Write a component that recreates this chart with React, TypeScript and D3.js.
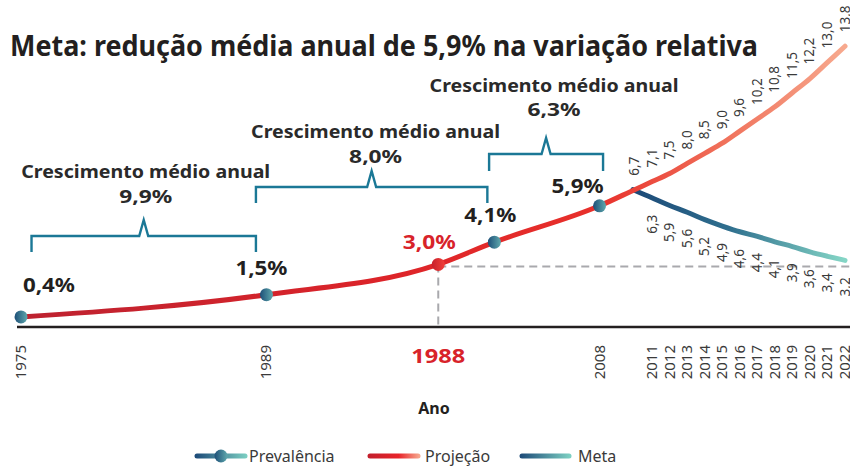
import React from "react";
import * as d3 from "d3";

const W = 850;
const H = 466;

const TITLE = "Meta: redução média anual de 5,9% na variação relativa";

// Prevalence (observed) points
const prevYears = [1975, 1989, 2002, 2008];
const prevValues = [0.4, 1.5, 4.1, 5.9];
const prevLabels = ["0,4%", "1,5%", "4,1%", "5,9%"];

// Projection marker (red point) – labelled "1988" in the source
const projMarkYear = 1998.8;
const projMarkValue = 3.0;
const projMarkLabel = "3,0%";
const projMarkTick = "1988";

// Projection curve (whole red line)
const projCurveYears = [1975, 1989, 1998.8, 2002, 2008, 2010, 2011, 2012, 2013, 2014, 2015, 2016, 2017, 2018, 2019, 2020, 2021, 2022];
const projCurveValues = [0.4, 1.5, 3.0, 4.1, 5.9, 6.7, 7.1, 7.5, 8.0, 8.5, 9.0, 9.6, 10.2, 10.8, 11.5, 12.2, 13.0, 13.8];

// Projection labels
const projYears = [2010, 2011, 2012, 2013, 2014, 2015, 2016, 2017, 2018, 2019, 2020, 2021, 2022];
const projValues = [6.7, 7.1, 7.5, 8.0, 8.5, 9.0, 9.6, 10.2, 10.8, 11.5, 12.2, 13.0, 13.8];
const projLabels = ["6,7", "7,1", "7,5", "8,0", "8,5", "9,0", "9,6", "10,2", "10,8", "11,5", "12,2", "13,0", "13,8"];

// Meta (target)
const metaYears = [2011, 2012, 2013, 2014, 2015, 2016, 2017, 2018, 2019, 2020, 2021, 2022];
const metaValues = [6.3, 5.9, 5.6, 5.2, 4.9, 4.6, 4.4, 4.1, 3.9, 3.6, 3.4, 3.2];
const metaLabels = ["6,3", "5,9", "5,6", "5,2", "4,9", "4,6", "4,4", "4,1", "3,9", "3,6", "3,4", "3,2"];
const metaStartYear = 2009.9;
const metaStartValue = 6.7;

// x tick labels
const tickYears = [1975, 1989, 2008, 2011, 2012, 2013, 2014, 2015, 2016, 2017, 2018, 2019, 2020, 2021, 2022];

// Growth brackets
const bracketFrom = [1975.6, 1988.4, 2001.7];
const bracketTo = [1988.4, 2001.6, 2008.2];
const bracketRates = ["9,9%", "8,0%", "6,3%"];
const bracketText = "Crescimento médio anual";

// Legend
const legendNames = ["Prevalência", "Projeção", "Meta"];

const FONT = "'Noto Sans', 'Open Sans', sans-serif";

export default function App() {
  const x = d3.scaleLinear().domain([1975, 2022]).range([21, 845]);
  const y = d3.scaleLinear().domain([0, 14]).range([325, 42.2]);

  const redLine = d3
    .line<number>()
    .x((_, i) => x(projCurveYears[i]))
    .y((d) => y(d))
    .curve(d3.curveMonotoneX)(projCurveValues) as string;

  const metaAllYears = [metaStartYear, ...metaYears];
  const metaAllValues = [metaStartValue, ...metaValues];
  const metaLine = d3
    .line<number>()
    .x((_, i) => x(metaAllYears[i]))
    .y((d) => y(d))
    .curve(d3.curveBasis)(metaAllValues) as string;

  const bracketLevels = [236, 187, 154];
  const bracketDrop = [16, 16, 17];
  const labelPos = [
    { dx: 2, t1: 178, t2: 203 },
    { dx: 4, t1: 138, t2: 163 },
    { dx: 8, t1: 92, t2: 116 },
  ];

  const bracketPath = (x0: number, x1: number, yb: number, drop: number) => {
    const cx = (x0 + x1) / 2;
    return `M${x0},${yb + drop}V${yb}H${cx - 4.5}L${cx},${yb - 16}L${cx + 4.5},${yb}H${x1}V${yb + drop}`;
  };

  const prevLabelPos = [
    { dx: 28, dy: -25 },
    { dx: -5, dy: -20 },
    { dx: -4, dy: -20 },
    { dx: -22, dy: -13 },
  ];

  const teal = "#1b7896";
  const xMark = x(projMarkYear);
  const yMark = y(projMarkValue);
  const legY = 456;

  return (
    <svg width={W} height={H} style={{ position: "absolute", left: 0, top: 0 }} fontFamily={FONT}>
      <defs>
        <linearGradient id="redGrad" gradientUnits="userSpaceOnUse" x1={x(1975)} y1="0" x2={x(2022)} y2="0">
          <stop offset="0%" stopColor="#bd2230" />
          <stop offset="45%" stopColor="#dd2429" />
          <stop offset="70%" stopColor="#e8302b" />
          <stop offset="85%" stopColor="#f0705a" />
          <stop offset="100%" stopColor="#f7a98e" />
        </linearGradient>
        <linearGradient id="metaGrad" gradientUnits="userSpaceOnUse" x1={x(2010)} y1="0" x2={x(2022)} y2="0">
          <stop offset="0%" stopColor="#1c4a78" />
          <stop offset="45%" stopColor="#2f6f8e" />
          <stop offset="100%" stopColor="#85d6c6" />
        </linearGradient>
        <linearGradient id="dotGrad" x1="0" y1="0" x2="1" y2="0">
          <stop offset="0%" stopColor="#1d4f78" />
          <stop offset="100%" stopColor="#5fa9ad" />
        </linearGradient>
        <linearGradient id="redDot" x1="0" y1="0" x2="1" y2="0">
          <stop offset="0%" stopColor="#c81f2b" />
          <stop offset="100%" stopColor="#f0403a" />
        </linearGradient>
        <linearGradient id="legPrev" gradientUnits="userSpaceOnUse" x1={195} y1="0" x2={247} y2="0">
          <stop offset="0%" stopColor="#1c4a78" />
          <stop offset="100%" stopColor="#7ccfc2" />
        </linearGradient>
        <linearGradient id="legProj" gradientUnits="userSpaceOnUse" x1={368} y1="0" x2={419} y2="0">
          <stop offset="0%" stopColor="#c21f2c" />
          <stop offset="60%" stopColor="#e8242a" />
          <stop offset="100%" stopColor="#f6a58c" />
        </linearGradient>
        <linearGradient id="legMeta" gradientUnits="userSpaceOnUse" x1={520} y1="0" x2={570} y2="0">
          <stop offset="0%" stopColor="#1c4a78" />
          <stop offset="100%" stopColor="#7ccfc2" />
        </linearGradient>
      </defs>

      {/* Title */}
      <text x={10} y={56} fontSize={28} fontWeight={700} fill="#231f20" textLength={748} lengthAdjust="spacingAndGlyphs">
        {TITLE}
      </text>

      {/* Brackets */}
      {bracketFrom.map((b, i) => {
        const x0 = x(b);
        const x1 = x(bracketTo[i]);
        const cx = (x0 + x1) / 2 + labelPos[i].dx;
        return (
          <g key={"br" + i}>
            <path d={bracketPath(x0, x1, bracketLevels[i], bracketDrop[i])} fill="none" stroke={teal} strokeWidth={2.4} />
            <text x={cx} y={labelPos[i].t1} textAnchor="middle" fontSize={18.5} fontWeight={700} fill="#2a2a2a" textLength={249} lengthAdjust="spacingAndGlyphs">
              {bracketText}
            </text>
            <text x={cx} y={labelPos[i].t2} textAnchor="middle" fontSize={18.5} fontWeight={700} fill="#2a2a2a" textLength={53} lengthAdjust="spacingAndGlyphs">
              {bracketRates[i]}
            </text>
          </g>
        );
      })}

      {/* Dashed reference lines */}
      <line x1={xMark} x2={xMark} y1={yMark} y2={327} stroke="#a9a9ad" strokeWidth={2} strokeDasharray="8,5" />
      <line x1={xMark} x2={W} y1={y(3.0) + 2} y2={y(3.0) + 2} stroke="#a9a9ad" strokeWidth={2} strokeDasharray="8,5" />

      {/* Axis baseline */}
      <line x1={17} x2={W} y1={327} y2={327} stroke="#231f20" strokeWidth={2.5} />

      {/* Lines */}
      <path d={metaLine} fill="none" stroke="url(#metaGrad)" strokeWidth={5} strokeLinecap="round" />
      <path d={redLine} fill="none" stroke="url(#redGrad)" strokeWidth={5} strokeLinecap="round" />

      {/* Prevalence dots */}
      {prevYears.map((yr, i) => (
        <circle key={"pd" + i} cx={x(yr)} cy={y(prevValues[i])} r={6.5} fill="url(#dotGrad)" />
      ))}
      <circle cx={xMark} cy={yMark} r={6.5} fill="url(#redDot)" />

      {/* Point labels */}
      {prevYears.map((yr, i) => (
        <text
          key={"pl" + i}
          x={x(yr) + prevLabelPos[i].dx}
          y={y(prevValues[i]) + prevLabelPos[i].dy}
          textAnchor="middle"
          fontSize={19}
          fontWeight={700}
          fill="#231f20"
          textLength={52}
          lengthAdjust="spacingAndGlyphs"
        >
          {prevLabels[i]}
        </text>
      ))}
      <text x={xMark - 9} y={yMark - 15} textAnchor="middle" fontSize={19} fontWeight={700} fill="#d8232a" textLength={53} lengthAdjust="spacingAndGlyphs">
        {projMarkLabel}
      </text>

      {/* Projection value labels */}
      {projYears.map((yr, i) => {
        const px = x(yr) + 4.5;
        const py = y(projValues[i]) - 14;
        return (
          <text key={"pv" + i} transform={`translate(${px},${py}) rotate(-90)`} textAnchor="start" fontSize={13.5} fill="#3a3a3a">
            {projLabels[i]}
          </text>
        );
      })}

      {/* Meta value labels */}
      {metaYears.map((yr, i) => {
        const px = x(yr) + 4.5;
        const py = y(metaValues[i]) + 17;
        return (
          <text key={"mv" + i} transform={`translate(${px},${py}) rotate(-90)`} textAnchor="end" fontSize={13.5} fill="#3a3a3a">
            {metaLabels[i]}
          </text>
        );
      })}

      {/* X tick labels */}
      {tickYears.map((yr) => (
        <text key={"t" + yr} transform={`translate(${x(yr) + 5},345) rotate(-90)`} textAnchor="end" fontSize={15} fill="#3a3a3a">
          {yr}
        </text>
      ))}
      <text x={xMark} y={363} textAnchor="middle" fontSize={20} fontWeight={700} fill="#d8232a" textLength={54} lengthAdjust="spacingAndGlyphs">
        {projMarkTick}
      </text>

      <text x={434} y={414} textAnchor="middle" fontSize={16} fontWeight={700} fill="#231f20">
        Ano
      </text>

      {/* Legend */}
      <g>
        <line x1={197} x2={245} y1={legY} y2={legY} stroke="url(#legPrev)" strokeWidth={5} strokeLinecap="round" />
        <circle cx={221} cy={legY} r={6.5} fill="url(#dotGrad)" />
        <text x={249} y={legY + 6} fontSize={16} fill="#3a3a3a">{legendNames[0]}</text>
        <line x1={370} x2={418} y1={legY} y2={legY} stroke="url(#legProj)" strokeWidth={5} strokeLinecap="round" />
        <text x={425} y={legY + 6} fontSize={16} fill="#3a3a3a">{legendNames[1]}</text>
        <line x1={522} x2={569} y1={legY} y2={legY} stroke="url(#legMeta)" strokeWidth={5} strokeLinecap="round" />
        <text x={578} y={legY + 6} fontSize={16} fill="#3a3a3a">{legendNames[2]}</text>
      </g>
    </svg>
  );
}
